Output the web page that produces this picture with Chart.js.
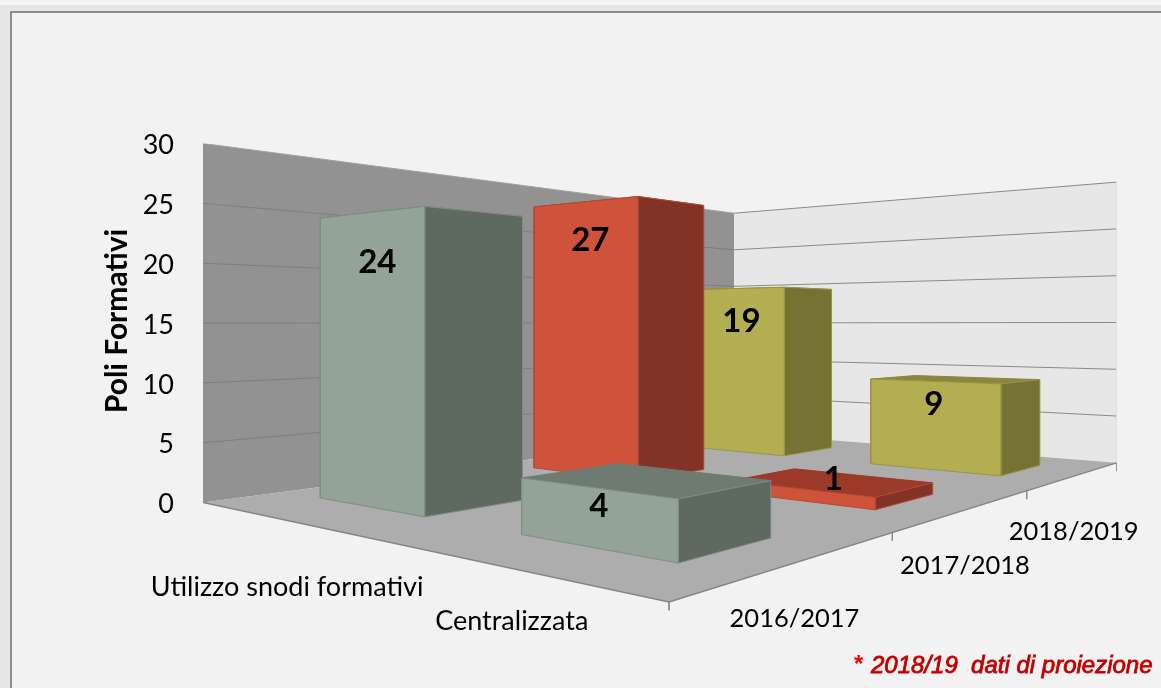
<!DOCTYPE html>
<html>
<head>
<meta charset="utf-8">
<title>Poli Formativi</title>
<script src="https://cdn.jsdelivr.net/npm/chart.js@4"></script>
<style>
    html, body { margin: 0; padding: 0; width: 1161px; height: 688px; overflow: hidden; background: #e6e6e6; }
    .top-strip { position: absolute; left: 0; top: 0; width: 1161px; height: 5px; background: #f4f4f4; }
    .frame { position: absolute; left: 10px; top: 11px; width: 1151px; height: 677px; box-sizing: border-box;
             background: #f2f2f2; border-left: 2px solid #8c8c8c; border-top: 2px solid #8c8c8c; }
    canvas { position: absolute; left: 0; top: 0; display: block; }
</style>
</head>
<body>
<div class="top-strip"></div>
<div class="frame"></div>
<canvas id="chart" width="1161" height="688"></canvas>
<script>
// data
const categories = ['Utilizzo snodi formativi', 'Centralizzata'];
const years = ['2016/2017', '2017/2018', '2018/2019'];
const values2016 = [24, 4];
const values2017 = [27, 1];
const values2018 = [19, 9];
const tickValues = [0, 5, 10, 15, 20, 25, 30];
const footnote = '2018/19  dati di proiezione';

const allValues = [values2016, values2017, values2018];

// colours per year: front, side, top, edge
const yearColors = [
    { front: '#94a398', side: '#5e6960', top: '#6f7b70', edge: '#7f8e83' },
    { front: '#cf533b', side: '#823326', top: '#9c3a2a', edge: '#b24a35' },
    { front: '#b4ae52', side: '#757234', top: '#8a8640', edge: '#9a9544' }
];

// 3D view: floor corners in axis units (x scale, value scale), u = categories, v = years
const floorLeft = [203, 0];
const floorNear = [669, -8.3];
const floorRight = [1116.5, 3.32];
const floorBack = [734, 5.85];

const sx = floorLeft[0] - floorNear[0] + floorRight[0] - floorBack[0];
const sy = floorLeft[1] - floorNear[1] + floorRight[1] - floorBack[1];
const dx1 = floorNear[0] - floorRight[0];
const dx2 = floorBack[0] - floorRight[0];
const dy1 = floorNear[1] - floorRight[1];
const dy2 = floorBack[1] - floorRight[1];
const den = dx1 * dy2 - dx2 * dy1;
const g = (sx * dy2 - dx2 * sy) / den;
const h = (dx1 * sy - sx * dy1) / den;
const a = floorNear[0] - floorLeft[0] + g * floorNear[0];
const b = floorBack[0] - floorLeft[0] + h * floorBack[0];
const d = floorNear[1] - floorLeft[1] + g * floorNear[1];
const e = floorBack[1] - floorLeft[1] + h * floorBack[1];

function project(u, v, value) {
    const w = g * u + h * v + 1;
    return {
        x: (a * u + b * v + floorLeft[0]) / w,
        y: (d * u + e * v + floorLeft[1] + value) / w
    };
}

function polygon(points, fill, stroke, lineWidth) {
    const closed = fill ? points.concat([points[0]]) : points;
    return {
        type: 'line',
        data: closed,
        fill: fill ? 'shape' : false,
        backgroundColor: fill || 'transparent',
        borderColor: stroke || fill,
        borderWidth: lineWidth === undefined ? 1 : lineWidth,
        pointRadius: 0,
        tension: 0
    };
}

// bar footprint around the centre of its floor cell
const BAR_U_BEFORE = 0.143;
const BAR_U_AFTER = 0.14;
const BAR_V_BEFORE = 0.065;
const BAR_V_AFTER = 0.071;

const faces = [];

// walls and floor
faces.push(polygon([project(0, 0, 0), project(0, 1, 0), project(0, 1, 30), project(0, 0, 30)], '#929292', '#929292', 0));
faces.push(polygon([project(0, 1, 0), project(1, 1, 0), project(1, 1, 30), project(0, 1, 30)], '#e7e7e7', '#e7e7e7', 0));
faces.push(polygon([project(0, 0, 0), project(1, 0, 0), project(1, 1, 0), project(0, 1, 0)], '#adadad', '#adadad', 0));

tickValues.slice(1).forEach(t => {
    faces.push(polygon([project(0, 0, t), project(0, 1, t)], null, t === 30 ? '#a0a0a0' : '#7e7e7e', 1));
    faces.push(polygon([project(0, 1, t), project(1, 1, t)], null, '#8a8a8a', 1));
});
faces.push(polygon([project(1, 1, 0), project(1, 1, 30)], null, '#cfcfcf', 1));
faces.push(polygon([project(0, 0, 0), project(1, 0, 0), project(1, 1, 0)], null, '#858585', 1.5));

// tick marks under the year edge
for (let i = 0; i <= years.length; i++) {
    const p = project(1, i / years.length, 0);
    faces.push(polygon([p, { x: p.x, y: p.y - 0.7 }], null, '#8a8a8a', 1));
}

// bars, back to front
function barCenter(cat, yr) {
    return { u: (cat + 0.5) / categories.length, v: (yr + 0.5) / years.length };
}

for (let yr = years.length - 1; yr >= 0; yr--) {
    categories.forEach((name, cat) => {
        const value = allValues[yr][cat];
        const c = barCenter(cat, yr);
        const col = yearColors[yr];
        const u0 = c.u - BAR_U_BEFORE, u1 = c.u + BAR_U_AFTER;
        const v0 = c.v - BAR_V_BEFORE, v1 = c.v + BAR_V_AFTER;
        faces.push(polygon([project(u0, v0, value), project(u1, v0, value), project(u1, v1, value), project(u0, v1, value)], col.top, col.top, 1));
        faces.push(polygon([project(u1, v0, 0), project(u1, v1, 0), project(u1, v1, value), project(u1, v0, value)], col.side, col.edge, 1));
        faces.push(polygon([project(u0, v0, 0), project(u1, v0, 0), project(u1, v0, value), project(u0, v0, value)], col.front, col.edge, 1));
    });
}

// first dataset is painted last by Chart.js, order keeps the list above back to front
faces.forEach((f, i) => { f.order = faces.length - i; });

// label nudges in pixels [year][category]
const labelNudge = [
    [[7, 50], [3, 18]],
    [[6, 38], [33, -9]],
    [[8, 33], [0, 23]]
];
const categoryLabelDrop = [67, 53];
const categoryLabelShift = 2;
const yearLabelDrop = 56;
const yearLabelShift = -2;

const textPlugin = {
    id: 'textPlugin',
    afterDatasetsDraw(chart) {
        const c = chart.ctx;
        const xs = chart.scales.x;
        const ys = chart.scales.y;
        const px = p => ({ x: xs.getPixelForValue(p.x), y: ys.getPixelForValue(p.y) });

        c.save();
        c.textAlign = 'center';
        c.textBaseline = 'middle';

        // values on the bars
        c.fillStyle = '#000';
        c.font = 'bold 33px Lato';
        allValues.forEach((row, yr) => {
            row.forEach((value, cat) => {
                const m = barCenter(cat, yr);
                const p = px(project(m.u, m.v - BAR_V_BEFORE, value));
                const n = labelNudge[yr][cat];
                c.fillText(String(value), p.x + n[0], p.y + n[1]);
            });
        });

        // category and year labels along the floor edges
        c.font = '27px Lato';
        categories.forEach((name, cat) => {
            const p = px(project((cat + 0.5) / categories.length, 0, 0));
            c.fillText(name, p.x + categoryLabelShift, p.y + categoryLabelDrop[cat]);
        });
        c.font = '25.5px Lato';
        years.forEach((name, yr) => {
            const p = px(project(1, (yr + 0.5) / years.length, 0));
            c.fillText(name, p.x + yearLabelShift, p.y + yearLabelDrop);
        });

        // axis title
        c.save();
        c.translate(117, 321);
        c.rotate(-Math.PI / 2);
        c.font = 'bold 30px Lato';
        c.fillText('Poli Formativi', 0, 0);
        c.restore();

        // footnote
        c.textAlign = 'left';
        c.font = 'italic bold 24px "Liberation Sans"';
        c.fillStyle = '#ff0000';
        c.fillText('*', 853, 665);
        c.font = 'italic 24px "Liberation Sans"';
        c.fillStyle = '#c00000';
        c.strokeStyle = '#c00000';
        c.lineWidth = 0.8;
        c.fillText(footnote, 871, 666);
        c.strokeText(footnote, 871, 666);
        c.restore();
    }
};

new Chart(document.getElementById('chart'), {
    data: { datasets: faces },
    options: {
        responsive: false,
        animation: false,
        layout: { padding: { top: 143.5, right: 44.5, bottom: 71.7, left: 0 } },
        plugins: { legend: { display: false }, tooltip: { enabled: false } },
        scales: {
            x: { type: 'linear', display: false, min: 203, max: 1116.5 },
            y: {
                type: 'linear',
                min: -9.5,
                max: 30,
                afterFit: scale => { scale.width = 203; },
                afterBuildTicks: scale => { scale.ticks = tickValues.map(v => ({ value: v })); },
                grid: { display: false, drawTicks: false },
                border: { display: false },
                ticks: { padding: 29, labelOffset: 2, color: '#000', font: { family: 'Lato', size: 27 } }
            }
        }
    },
    plugins: [textPlugin]
});
</script>
</body>
</html>
